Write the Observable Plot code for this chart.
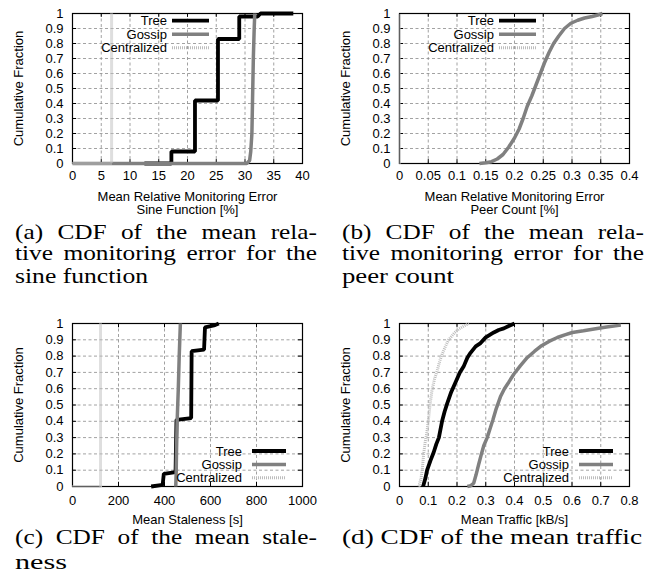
<!DOCTYPE html>
<html><head><meta charset="utf-8">
<script src="https://cdn.jsdelivr.net/npm/d3@7"></script>
<script src="https://cdn.jsdelivr.net/npm/@observablehq/plot@0.6"></script>
<style>
html,body{margin:0;padding:0;background:#fff;}
#fig{position:relative;width:654px;height:576px;overflow:hidden;background:#fff;}
.panel{position:absolute;}
.cap{position:absolute;font-family:"Liberation Serif",serif;font-size:22px;line-height:16px;white-space:nowrap;transform-origin:0 0;color:#000;}
</style></head><body><div id="fig"></div>
<script>
// ---- shared ----
const yTicks = [0, 0.1, 0.2, 0.3, 0.4, 0.5, 0.6, 0.7, 0.8, 0.9, 1];
const seriesNames = ["Tree", "Gossip", "Centralized"];
const yLabel = "Cumulative Fraction";

// ---- (a) sine function error ----
const ticksA = [0, 5, 10, 15, 20, 25, 30, 35, 40];
const labelA = "Mean Relative Monitoring Error\nSine Function [%]";
const treeA = [[12.5,0],[17.2,0],[17.2,0.08],[21.3,0.08],[21.3,0.42],[25.3,0.42],[25.3,0.83],[29.0,0.83],[29.0,0.98],[32.2,0.98],[32.7,1],[38.4,1]];
const gossipA = [[0,0],[30.3,0],[30.8,0.02],[31.0,0.08],[31.2,0.2],[31.3,0.4],[31.45,0.7],[31.6,0.9],[31.7,1]];
const centralA = [[0,0],[6.8,0],[6.8,1]];
const captionA = ["(a) CDF of the mean rela-", "tive monitoring error for the", "sine function"];

// ---- (b) peer count error ----
const ticksB = [0, 0.05, 0.1, 0.15, 0.2, 0.25, 0.3, 0.35, 0.4];
const labelB = "Mean Relative Monitoring Error\nPeer Count [%]";
const gossipB = [[0.139,0],[0.15,0.005],[0.16,0.012],[0.17,0.03],[0.18,0.06],[0.19,0.11],[0.2,0.17],[0.208,0.23],[0.215,0.3],[0.222,0.38],[0.23,0.45],[0.237,0.52],[0.245,0.6],[0.252,0.67],[0.26,0.74],[0.268,0.8],[0.277,0.85],[0.287,0.9],[0.298,0.935],[0.31,0.955],[0.322,0.97],[0.335,0.98],[0.345,0.99],[0.353,1]];
const centralB = [[0,0],[0,1]];
const captionB = ["(b) CDF of the mean rela-", "tive monitoring error for the", "peer count"];

// ---- (c) staleness ----
const ticksC = [0, 200, 400, 600, 800, 1000];
const labelC = "Mean Staleness [s]";
const treeC = [[342,0],[392,0.01],[397,0.078],[448,0.088],[452,0.41],[462,0.41],[516,0.42],[518,0.83],[572,0.84],[576,0.976],[620,0.99],[636,1]];
const gossipC = [[449,0],[451,0.1],[452,0.2],[455,0.4],[460,0.6],[464,0.8],[469,1]];
const centralC = [[0,0],[122,0],[122,1]];
const captionC = ["(c) CDF of the mean stale-", "ness"];

// ---- (d) traffic ----
const ticksD = [0, 0.1, 0.2, 0.3, 0.4, 0.5, 0.6, 0.7, 0.8];
const labelD = "Mean Traffic [kB/s]";
const treeD = [[0.082,0],[0.09,0.05],[0.096,0.1],[0.108,0.16],[0.119,0.21],[0.128,0.26],[0.137,0.3],[0.148,0.4],[0.157,0.46],[0.166,0.51],[0.18,0.58],[0.195,0.64],[0.21,0.7],[0.224,0.74],[0.236,0.79],[0.247,0.82],[0.265,0.86],[0.282,0.88],[0.3,0.915],[0.328,0.945],[0.345,0.96],[0.363,0.97],[0.38,0.985],[0.4,1]];
const gossipD = [[0.236,0],[0.248,0.005],[0.258,0.02],[0.266,0.07],[0.276,0.14],[0.285,0.2],[0.293,0.25],[0.305,0.3],[0.316,0.36],[0.325,0.41],[0.335,0.47],[0.351,0.55],[0.365,0.6],[0.38,0.64],[0.398,0.69],[0.42,0.74],[0.444,0.79],[0.47,0.83],[0.491,0.86],[0.52,0.89],[0.549,0.914],[0.575,0.93],[0.601,0.945],[0.64,0.955],[0.677,0.966],[0.72,0.978],[0.77,0.99]];
const centralD = [[0.067,0],[0.075,0.05],[0.08,0.12],[0.084,0.2],[0.09,0.28],[0.096,0.34],[0.1,0.4],[0.106,0.5],[0.113,0.59],[0.122,0.66],[0.131,0.71],[0.14,0.77],[0.148,0.81],[0.16,0.86],[0.171,0.9],[0.19,0.94],[0.206,0.966],[0.225,0.985],[0.241,1]];
const captionD = ["(d) CDF of the mean traffic"];

// ---- styles ----
const STY = {
  Tree: {stroke: "#000000", strokeWidth: 3.8},
  Gossip: {stroke: "#808080", strokeWidth: 3.5},
  Centralized: {stroke: "#bdbdbd", strokeWidth: 3, strokeDasharray: "1,1"}
};
const GRID = {stroke: "#8a8a8a", strokeOpacity: 1, strokeWidth: 0.8, strokeDasharray: "3,2.5"};
const FONT = "'Liberation Sans', Arial, sans-serif";

const fig = document.getElementById("fig");

function panel(cfg) {
  const {left, top, height, marginBottom, xTicks, xLabel, series, legend, tickPad, labelDy} = cfg;
  const W = 327, mL = 72, mR = 25, mT = 13;
  const x0 = xTicks[0], x1 = xTicks[xTicks.length - 1];
  const tx = (x1 - x0) * 0.018, ty = 0.026;
  const fmt = d => String(d);
  const marks = [
    Plot.gridX(xTicks, GRID),
    Plot.gridY(yTicks, GRID),
    Plot.ruleX(xTicks, {y1: 0, y2: ty, stroke: "#000"}),
    Plot.ruleX(xTicks, {y1: 1 - ty, y2: 1, stroke: "#000"}),
    Plot.ruleY(yTicks, {x1: x0, x2: x0 + tx, stroke: "#000"}),
    Plot.ruleY(yTicks, {x1: x1 - tx, x2: x1, stroke: "#000"}),
    Plot.axisX(xTicks, {tickSize: 0, tickPadding: tickPad, tickFormat: fmt, label: null, fontSize: 13}),
    Plot.axisY(yTicks, {tickSize: 0, tickPadding: 9, tickFormat: fmt, label: null, fontSize: 13}),
    Plot.frame({stroke: "#000", strokeWidth: 1.2}),
    ...series.map(s => Plot.line(s.data, {x: d => d[0], y: d => d[1], ...STY[s.name], strokeLinejoin: "miter", strokeLinecap: "butt"})),
    Plot.text([xLabel], {frameAnchor: "bottom", dy: labelDy, fontSize: 13, lineHeight: 1, lineAnchor: "middle", textAnchor: "middle"}),
    Plot.text([yLabel], {frameAnchor: "left", dx: -54, rotate: -90, fontSize: 13, textAnchor: "middle", lineAnchor: "middle"})
  ];
  const svg = Plot.plot({
    width: W, height, marginLeft: mL, marginRight: mR, marginTop: mT, marginBottom,
    x: {domain: [x0, x1]},
    y: {domain: [0, 1]},
    style: {fontFamily: FONT, fontSize: "13px", background: "transparent", color: "#000", overflow: "visible"},
    marks
  });
  svg.classList.add("panel");
  svg.style.left = left + "px";
  svg.style.top = top + "px";
  fig.appendChild(svg);

  // legend (gnuplot-style key, no box)
  const fL = mL, fR = W - mR, fT = mT, fB = height - marginBottom;
  const g = d3.select(svg).append("g").attr("font-family", FONT).attr("font-size", 13);
  seriesNames.forEach((name, i) => {
    let tEnd, lx1, lx2, yy;
    if (legend === "tl") { tEnd = fL + 95; lx1 = fL + 100; lx2 = fL + 137; yy = fT + 7.7 + i * 13.5; }
    else { tEnd = fR - 60; lx1 = fR - 50; lx2 = fR - 16; yy = fB - 35 + i * 13.4; }
    g.append("text").attr("x", tEnd).attr("y", yy).attr("dy", "0.35em").attr("text-anchor", "end").attr("fill", "#000").text(name);
    const st = STY[name];
    g.append("line").attr("x1", lx1).attr("x2", lx2).attr("y1", yy).attr("y2", yy)
      .attr("stroke", st.stroke).attr("stroke-width", st.strokeWidth)
      .attr("stroke-dasharray", st.strokeDasharray || null);
  });
}

panel({left: 0, top: 0, height: 215, marginBottom: 52, xTicks: ticksA, xLabel: labelA, tickPad: 7, labelDy: 39.5, legend: "tl",
  series: [{name: "Tree", data: treeA}, {name: "Gossip", data: gossipA}, {name: "Centralized", data: centralA}]});
panel({left: 327, top: 0, height: 215, marginBottom: 52, xTicks: ticksB, xLabel: labelB, tickPad: 7, labelDy: 39.5, legend: "tl",
  series: [{name: "Gossip", data: gossipB}, {name: "Centralized", data: centralB}]});
panel({left: 0, top: 310, height: 220, marginBottom: 44, xTicks: ticksC, xLabel: labelC, tickPad: 9, labelDy: 33, legend: "br",
  series: [{name: "Tree", data: treeC}, {name: "Gossip", data: gossipC}, {name: "Centralized", data: centralC}]});
panel({left: 327, top: 310, height: 220, marginBottom: 44, xTicks: ticksD, xLabel: labelD, tickPad: 9, labelDy: 33, legend: "br",
  series: [{name: "Tree", data: treeD}, {name: "Gossip", data: gossipD}, {name: "Centralized", data: centralD}]});

// ---- captions (LaTeX-style subfigure captions) ----
function caption(lines, x, baselines, widths) {
  lines.forEach((t, i) => {
    const div = document.createElement("div");
    div.className = "cap";
    div.textContent = t;
    fig.appendChild(div);
    div.style.left = x + "px";
    div.style.top = (baselines[i] - 15.43) + "px";
    const w0 = div.getBoundingClientRect().width;
    const justified = i < lines.length - 1;
    if (justified) {
      const s = 1.15, n = (t.match(/ /g) || []).length;
      div.style.wordSpacing = ((widths[i] / s - w0) / n) + "px";
      div.style.transform = `scaleX(${s})`;
    } else {
      div.style.transform = `scaleX(${widths[i] / w0})`;
    }
  });
}
caption(captionA, 15, [239, 260, 283], [302, 302, 133]);
caption(captionB, 342, [239, 260, 283], [302, 302, 112]);
caption(captionC, 15, [544, 569], [302, 52]);
caption(captionD, 342, [544], [300]);
</script></body></html>
